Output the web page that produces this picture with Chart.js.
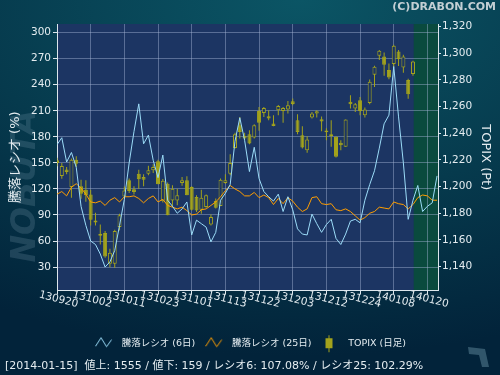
<!DOCTYPE html>
<html>
<head>
<meta charset="utf-8">
<script src="https://cdn.jsdelivr.net/npm/chart.js@4.4.0/dist/chart.umd.min.js"></script>
<style>
  html, body { margin: 0; padding: 0; }
  body { width: 500px; height: 375px; overflow: hidden;
    background: radial-gradient(120% 95% at 60% 0%, #0b5565 0%, #063a4d 55%, #02233a 100%); }
</style>
</head>
<body>
<canvas id="graficoRazaoAltaBaixa" width="500" height="375"></canvas>
<script>
// datas (pregões) em AAMMDD
const datas = ['130920','130924','130925','130926','130927','130930','131001','131002','131003','131004',
    '131007','131008','131009','131010','131011','131015','131016','131017','131018','131021',
    '131022','131023','131024','131025','131028','131029','131030','131031','131101','131105',
    '131106','131107','131108','131111','131112','131113','131114','131115','131118','131119',
    '131120','131121','131122','131125','131126','131127','131128','131129','131202','131203',
    '131204','131205','131206','131209','131210','131211','131212','131213','131216','131217',
    '131218','131219','131220','131224','131225','131226','131227','131230','140106','140107',
    '140108','140109','140110','140114','140115','140116','140117','140120','140121','140122']

// 騰落レシオ 6日 / 25日 (%)
const razao6 = [171, 179, 151, 162, 145, 100, 78, 60, 56, 45,
    30, 36, 49, 78, 108, 150, 186, 218, 172, 182,
    153, 133, 159, 107, 100, 92, 97, 105, 67, 84,
    80, 76, 59, 70, 107, 115, 125, 175, 202, 176,
    140, 168, 132, 117, 111, 106, 114, 94, 111, 96,
    74, 68, 67, 91, 80, 70, 79, 85, 63, 56,
    68, 83, 85, 81, 107, 125, 141, 167, 195, 205,
    261, 203, 150, 85, 107, 124, 94, 100, 104, 135]
const razao25 = [114, 117, 112, 122, 126, 121, 114, 105, 104, 106,
    101, 107, 110, 105, 111, 111, 112, 109, 104, 109,
    112, 105, 108, 101, 99, 97, 99, 95, 90, 91,
    96, 97, 101, 105, 111, 118, 124, 120, 117, 112,
    112, 116, 110, 113, 110, 102, 109, 103, 110, 106,
    99, 94, 97, 110, 111, 103, 102, 103, 96, 95,
    97, 94, 89, 84, 87, 92, 94, 99, 98, 97,
    105, 103, 102, 97, 102, 110, 113, 112, 107, 107]

// TOPIX diário (abertura, máxima, mínima, fechamento)
const topixAbertura = [1219.7, 1207.9, 1212.9, 1199.7, 1220.2, 1200.2, 1197.7, 1194.1, 1174.6, 1164.6,
    1165.1, 1142.0, 1142.0, 1169.6, 1192.6, 1204.7, 1197.9, 1209.7, 1207.2, 1209.7,
    1212.2, 1219.0, 1189.4, 1202.2, 1189.6, 1189.6, 1202.7, 1204.7, 1199.7, 1192.1,
    1182.6, 1184.6, 1171.6, 1189.1, 1185.4, 1202.7, 1209.7, 1229.0, 1246.0, 1238.0,
    1239.3, 1236.8, 1256.8, 1255.3, 1252.8, 1247.3, 1257.3, 1256.8, 1257.8, 1264.0,
    1249.8, 1238.5, 1227.3, 1251.8, 1254.8, 1250.6, 1242.1, 1239.3, 1237.3, 1232.8,
    1229.8, 1263.6, 1258.6, 1264.8, 1253.6, 1262.8, 1283.9, 1298.2, 1297.7, 1287.4,
    1291.9, 1301.4, 1289.4, 1279.9, 1284.4]
const topixMaxima = [1221.7, 1217.7, 1214.7, 1221.0, 1222.7, 1205.2, 1204.7, 1197.6, 1180.4, 1171.6,
    1166.6, 1153.3, 1167.6, 1179.6, 1200.0, 1206.0, 1200.2, 1212.7, 1209.2, 1215.7,
    1216.7, 1220.2, 1205.7, 1203.0, 1200.9, 1198.4, 1207.2, 1207.7, 1200.2, 1193.4,
    1197.6, 1194.1, 1179.1, 1191.1, 1206.0, 1209.2, 1224.2, 1240.3, 1252.3, 1240.3,
    1242.3, 1246.8, 1259.8, 1259.8, 1257.3, 1253.6, 1261.2, 1259.8, 1264.3, 1266.0,
    1254.3, 1245.3, 1237.8, 1256.0, 1257.3, 1252.6, 1243.8, 1249.8, 1237.8, 1234.8,
    1250.3, 1268.6, 1262.8, 1267.3, 1259.3, 1280.3, 1290.7, 1302.4, 1300.7, 1292.4,
    1306.5, 1302.4, 1298.9, 1280.9, 1294.4]
const topixMinima = [1215.2, 1205.9, 1209.2, 1191.6, 1214.7, 1190.9, 1188.6, 1170.8, 1170.8, 1156.5,
    1146.5, 1139.5, 1139.0, 1167.1, 1191.6, 1195.1, 1194.1, 1198.2, 1200.2, 1208.4,
    1210.2, 1201.7, 1188.1, 1178.4, 1184.6, 1185.9, 1200.7, 1193.4, 1182.1, 1180.9,
    1179.6, 1184.1, 1170.8, 1183.6, 1185.4, 1202.2, 1208.4, 1228.5, 1236.0, 1234.8,
    1231.8, 1236.0, 1241.8, 1252.3, 1249.8, 1245.3, 1253.6, 1247.8, 1254.8, 1261.0,
    1239.3, 1228.5, 1225.3, 1251.0, 1251.8, 1241.6, 1234.8, 1229.8, 1221.8, 1227.3,
    1229.8, 1258.6, 1256.0, 1253.6, 1251.8, 1261.8, 1274.8, 1294.9, 1283.1, 1280.6,
    1289.9, 1290.4, 1285.4, 1265.9, 1283.1]
const topixFechamento = [1217.7, 1215.4, 1210.9, 1220.2, 1217.2, 1194.6, 1193.4, 1175.1, 1173.1, 1163.1,
    1147.5, 1150.3, 1166.6, 1178.4, 1197.1, 1196.6, 1195.9, 1205.4, 1205.2, 1212.2,
    1214.7, 1201.7, 1204.4, 1178.4, 1198.4, 1193.4, 1204.7, 1193.4, 1182.6, 1182.1,
    1191.6, 1193.4, 1177.1, 1184.1, 1205.2, 1204.7, 1217.7, 1239.3, 1241.0, 1236.0,
    1232.3, 1246.0, 1247.8, 1259.0, 1251.0, 1245.5, 1260.5, 1259.0, 1261.0, 1262.0,
    1241.0, 1229.3, 1235.3, 1254.8, 1256.6, 1248.8, 1240.8, 1237.8, 1222.3, 1231.0,
    1250.3, 1261.8, 1261.8, 1256.8, 1257.8, 1278.6, 1289.9, 1301.9, 1291.4, 1281.9,
    1305.7, 1295.7, 1297.7, 1269.2, 1293.9]

const ticksEsquerda = [30, 60, 90, 120, 150, 180, 210, 240, 270, 300]
const ticksDireita = [1140, 1160, 1180, 1200, 1220, 1240, 1260, 1280, 1300, 1320]
const ticksX = [0, 7, 14, 21, 28, 35, 42, 49, 56, 63, 70, 77]
const textosLegenda = ['騰落レシオ (6日)', '騰落レシオ (25日)', 'TOPIX (日足)']
const rodape = '[2014-01-15]  値上: 1555 / 値下: 159 / レシオ6: 107.08% / レシオ25: 102.29%'
const marcaDagua = 'NOBUTA'

const corAreaPlot = '#1c3563'
const corVerde = '#0a4a3e'
const corGrade = 'rgba(165,180,212,0.45)'
const corEixo = '#dde6ec'
const corTexto = '#e4ecf0'
const corCiano = '#9cdcf8'
const corLaranja = '#ff9e00'
const corOliva = '#a3a31c'
const fonte = '"DejaVu Sans", "Noto Sans CJK JP", sans-serif'

function criarIcone(largura, altura, desenho) {
    let c = document.createElement('canvas')
    c.width = largura
    c.height = altura
    desenho(c.getContext('2d'))
    return c
}

function iconeLinha(cor) {
    return criarIcone(22, 14, g => {
        g.strokeStyle = cor
        g.lineWidth = 1
        g.beginPath()
        g.moveTo(0.5, 10)
        g.lineTo(6, 1.5)
        g.lineTo(11.5, 10.5)
        g.lineTo(16.5, 3.5)
        g.stroke()
    })
}

const iconeVela = criarIcone(22, 20, g => {
    g.fillStyle = corOliva
    g.fillRect(7, 2, 1, 17)
    g.fillRect(4, 5, 7, 10)
})

const icones = [iconeLinha(corCiano), iconeLinha(corLaranja), iconeVela]

const fundoGrafico = {
    id: 'fundoGrafico',
    beforeDraw(chart) {
        const { ctx, chartArea: a, scales: { x } } = chart
        ctx.save()
        // marca d'água vertical à esquerda
        ctx.translate(26, 186)
        ctx.rotate(-Math.PI / 2)
        ctx.font = `italic bold 33px ${fonte}`
        ctx.fillStyle = 'rgba(130,165,182,0.22)'
        ctx.textAlign = 'center'
        ctx.textBaseline = 'middle'
        ctx.fillText(marcaDagua, 0, 0)
        ctx.restore()

        // logotipo pequeno no canto inferior direito
        ctx.save()
        ctx.fillStyle = 'rgba(90,130,148,0.55)'
        ctx.beginPath()
        ctx.moveTo(468, 347)
        ctx.lineTo(485, 349)
        ctx.lineTo(489, 367)
        ctx.lineTo(482, 367)
        ctx.lineTo(479, 355)
        ctx.lineTo(469, 354)
        ctx.closePath()
        ctx.fill()
        ctx.restore()

        ctx.save()
        ctx.fillStyle = corAreaPlot
        ctx.fillRect(a.left, a.top, a.right - a.left, a.bottom - a.top)
        let inicioVerde = x.getPixelForValue(topixFechamento.length - 1 + 0.15)
        ctx.fillStyle = corVerde
        ctx.fillRect(inicioVerde, a.top, a.right - inicioVerde, a.bottom - a.top)
        ctx.restore()
    }
}

// rótulos do eixo X inclinados no sentido horário
const rotulosX = {
    id: 'rotulosX',
    afterDraw(chart) {
        const { ctx, scales: { x } } = chart
        ctx.save()
        ctx.font = `10.5px ${fonte}`
        ctx.fillStyle = corTexto
        ctx.textAlign = 'center'
        ctx.textBaseline = 'middle'
        x.ticks.forEach(t => {
            ctx.save()
            ctx.translate(x.getPixelForValue(t.value) + 1.5, x.top + 9)
            ctx.rotate(14 * Math.PI / 180)
            ctx.fillText(datas[t.value], 0, 0)
            ctx.restore()
        })
        ctx.restore()
    }
}

const pavios = topixMaxima.map((h, i) => ({ x: i, y: [topixMinima[i], h] }))
const corpos = topixAbertura.map((o, i) => ({ x: i, y: [Math.min(o, topixFechamento[i]), Math.max(o, topixFechamento[i])] }))
const velaCheia = topixAbertura.map((o, i) => topixFechamento[i] < o)

new Chart(document.getElementById('graficoRazaoAltaBaixa'), {
    type: 'bar',
    data: {
        datasets: [
            {
                type: 'line',
                label: textosLegenda[0],
                data: razao6.map((v, i) => ({ x: i, y: v })),
                borderColor: corCiano,
                borderWidth: 1,
                pointRadius: 0,
                tension: 0,
                yAxisID: 'y',
                order: 0
            },
            {
                type: 'line',
                label: textosLegenda[1],
                data: razao25.map((v, i) => ({ x: i, y: v })),
                borderColor: corLaranja,
                borderWidth: 1,
                pointRadius: 0,
                tension: 0,
                yAxisID: 'y',
                order: 1
            },
            {
                type: 'bar',
                label: textosLegenda[2],
                data: corpos,
                backgroundColor: velaCheia.map(c => c ? corOliva : corAreaPlot),
                borderColor: corOliva,
                borderWidth: 1,
                borderSkipped: false,
                inflateAmount: 0,
                barThickness: 4,
                grouped: false,
                yAxisID: 'y1',
                order: 2
            },
            {
                type: 'bar',
                label: 'pavio',
                data: pavios,
                backgroundColor: corOliva,
                borderWidth: 0,
                inflateAmount: 0,
                barThickness: 1,
                grouped: false,
                yAxisID: 'y1',
                order: 3
            }
        ]
    },
    options: {
        responsive: false,
        animation: false,
        devicePixelRatio: 1,
        events: [],
        layout: {
            padding: { left: 5, right: 4, top: 0, bottom: 0 }
        },
        plugins: {
            title: {
                display: true,
                text: '(C)DRABON.COM',
                position: 'top',
                align: 'end',
                color: '#c3cfd4',
                font: { family: fonte, size: 11, weight: 'bold' },
                padding: { top: 1, bottom: 9.8 }
            },
            subtitle: {
                display: true,
                text: rodape,
                position: 'bottom',
                align: 'start',
                color: corTexto,
                font: { family: fonte, size: 11 },
                padding: { top: 1.4, bottom: 2.4 }
            },
            legend: {
                display: true,
                position: 'bottom',
                labels: {
                    usePointStyle: true,
                    pointStyleWidth: 22,
                    boxHeight: 9.5,
                    padding: 10,
                    color: corTexto,
                    font: { family: fonte, size: 9.5 },
                    generateLabels: () => textosLegenda.map((t, k) => ({
                        text: t,
                        pointStyle: icones[k],
                        fillStyle: 'transparent',
                        strokeStyle: 'transparent',
                        lineWidth: 0,
                        fontColor: corTexto,
                        hidden: false,
                        datasetIndex: k
                    }))
                }
            },
            tooltip: { enabled: false }
        },
        scales: {
            x: {
                type: 'linear',
                min: 0,
                max: 79.2,
                offset: false,
                afterBuildTicks: s => { s.ticks = ticksX.map(v => ({ value: v })) },
                afterFit: s => { s.height = 38 },
                ticks: { display: false },
                grid: { color: corGrade, tickColor: corEixo, tickLength: 4, offset: false },
                border: { color: corEixo }
            },
            y: {
                position: 'left',
                min: 3,
                max: 310,
                afterBuildTicks: s => { s.ticks = ticksEsquerda.map(v => ({ value: v })) },
                afterFit: s => { s.width = 52 },
                ticks: { color: corTexto, font: { family: fonte, size: 10.5 }, padding: 2 },
                grid: { color: corGrade, tickColor: corEixo, tickLength: 4 },
                border: { color: corEixo },
                title: {
                    display: true,
                    text: '騰落レシオ (%)',
                    color: corTexto,
                    font: { family: fonte, size: 13 },
                    padding: { top: 3, bottom: 0 }
                }
            },
            y1: {
                position: 'right',
                min: 1122,
                max: 1322,
                afterBuildTicks: s => { s.ticks = ticksDireita.map(v => ({ value: v })) },
                afterFit: s => { s.width = 58 },
                ticks: {
                    color: corTexto,
                    font: { family: fonte, size: 10.5 },
                    padding: 1,
                    callback: v => v.toLocaleString('en-US')
                },
                grid: { drawOnChartArea: false, tickColor: corEixo, tickLength: 3 },
                border: { color: corEixo },
                title: {
                    display: true,
                    text: 'TOPIX (Pt)',
                    color: corTexto,
                    font: { family: fonte, size: 13 },
                    padding: { top: 3, bottom: 0 }
                }
            }
        }
    },
    plugins: [fundoGrafico, rotulosX]
})
</script>
</body>
</html>
